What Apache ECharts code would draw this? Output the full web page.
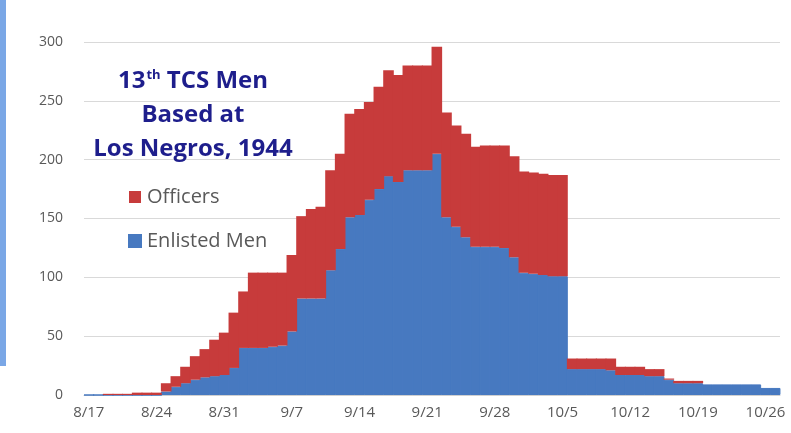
<!DOCTYPE html>
<html>
<head>
<meta charset="utf-8">
<script src="https://cdn.jsdelivr.net/npm/echarts@6/dist/echarts.min.js"></script>
<style>
  html, body { margin: 0; padding: 0; background: #fff; }
  #chart { width: 791px; height: 433px; }
</style>
</head>
<body>
<div id="chart"></div>
<script>
// one entry per day, 8/17 .. 10/27
const days = [
    '8/17', '8/18', '8/19', '8/20', '8/21', '8/22', '8/23', '8/24', '8/25', '8/26', '8/27', '8/28', '8/29', '8/30', '8/31',
    '9/1', '9/2', '9/3', '9/4', '9/5', '9/6', '9/7', '9/8', '9/9', '9/10', '9/11', '9/12', '9/13', '9/14', '9/15',
    '9/16', '9/17', '9/18', '9/19', '9/20', '9/21', '9/22', '9/23', '9/24', '9/25', '9/26', '9/27', '9/28', '9/29', '9/30',
    '10/1', '10/2', '10/3', '10/4', '10/5', '10/6', '10/7', '10/8', '10/9', '10/10', '10/11', '10/12', '10/13', '10/14',
    '10/15', '10/16', '10/17', '10/18', '10/19', '10/20', '10/21', '10/22', '10/23', '10/24', '10/25', '10/26', '10/27'
];

const enlisted = [
    0, 0, 0, 0, 0, 0, 0, 0, 3, 7, 10, 13, 15, 16, 17,
    23, 40, 40, 40, 41, 42, 54, 82, 82, 82, 106, 124, 151, 153, 166,
    175, 186, 181, 191, 191, 191, 205, 151, 143, 134, 126, 126, 126, 125, 117,
    104, 103, 102, 101, 101, 22, 22, 22, 22, 21, 17, 17, 17, 16,
    16, 13, 10, 10, 10, 9, 9, 9, 9, 9, 9, 6, 6
];

const officers = [
    0, 0, 1, 1, 1, 2, 2, 2, 7, 9, 14, 20, 24, 31, 36,
    47, 48, 64, 64, 63, 62, 65, 70, 76, 78, 85, 81, 88, 90, 83,
    87, 90, 91, 89, 89, 89, 91, 89, 86, 88, 85, 86, 86, 87, 86,
    86, 86, 86, 86, 86, 9, 9, 9, 9, 10, 7, 7, 7, 6,
    6, 1, 2, 2, 2, 0, 0, 0, 0, 0, 0, 0, 0
];

const yTicks = [0, 50, 100, 150, 200, 250, 300];

const chart = echarts.init(document.getElementById('chart'));
const labelFont = '"Open Sans", "DejaVu Sans", sans-serif';
const navy = '#1E1E8C';
const blue = '#4779C0';
const red = '#C73B3B';

chart.setOption({
    animation: false,
    backgroundColor: '#fff',
    textStyle: { fontFamily: labelFont },
    title: {
        left: 188,
        top: 59,
        textAlign: 'center',
        text: '{a|13}{sup|th}{a| TCS Men}\n{a|Based at}\n{a|Los Negros, 1944}',
        textStyle: {
            rich: {
                a: { fontFamily: labelFont, fontWeight: 'bold', fontSize: 24, color: navy, lineHeight: 34 },
                sup: { fontFamily: labelFont, fontWeight: 'bold', fontSize: 13, color: navy, padding: [0, 0, 12, 1] }
            }
        }
    },
    legend: {
        orient: 'vertical',
        left: 123,
        top: 182,
        itemWidth: 12,
        itemHeight: 12,
        itemGap: 24,
        icon: 'rect',
        data: ['Officers', 'Enlisted Men'],
        textStyle: { color: '#595959', fontSize: 20, fontFamily: labelFont, padding: [0, 0, 0, 1] }
    },
    grid: { left: 84, right: 11, top: 42, bottom: 38 },
    xAxis: {
        type: 'category',
        data: days,
        axisTick: { show: false },
        axisLine: { lineStyle: { color: '#d0d0d0' } },
        axisLabel: { interval: 6, color: '#595959', fontSize: 15, margin: 10 }
    },
    yAxis: {
        type: 'value',
        min: yTicks[0],
        max: yTicks[yTicks.length - 1],
        interval: 50,
        axisLine: { show: false },
        axisTick: { show: false },
        splitLine: { lineStyle: { color: '#d9d9d9' } },
        axisLabel: { color: '#595959', fontSize: 14, margin: 21 }
    },
    series: [{
        name: 'Enlisted Men',
        type: 'bar',
        stack: 'men',
        data: enlisted,
        barWidth: 10.6,
        // thin same-colour edge hides the seam under the red bars
        itemStyle: { color: blue, borderColor: blue, borderWidth: 1 }
    }, {
        name: 'Officers',
        type: 'bar',
        stack: 'men',
        data: officers,
        barWidth: 10.6,
        itemStyle: { color: red }
    }],
    graphic: [{
        type: 'rect',
        left: 0,
        top: 0,
        shape: { width: 6, height: 366 },
        style: { fill: '#7AA7E6' }
    }]
});
</script>
</body>
</html>
